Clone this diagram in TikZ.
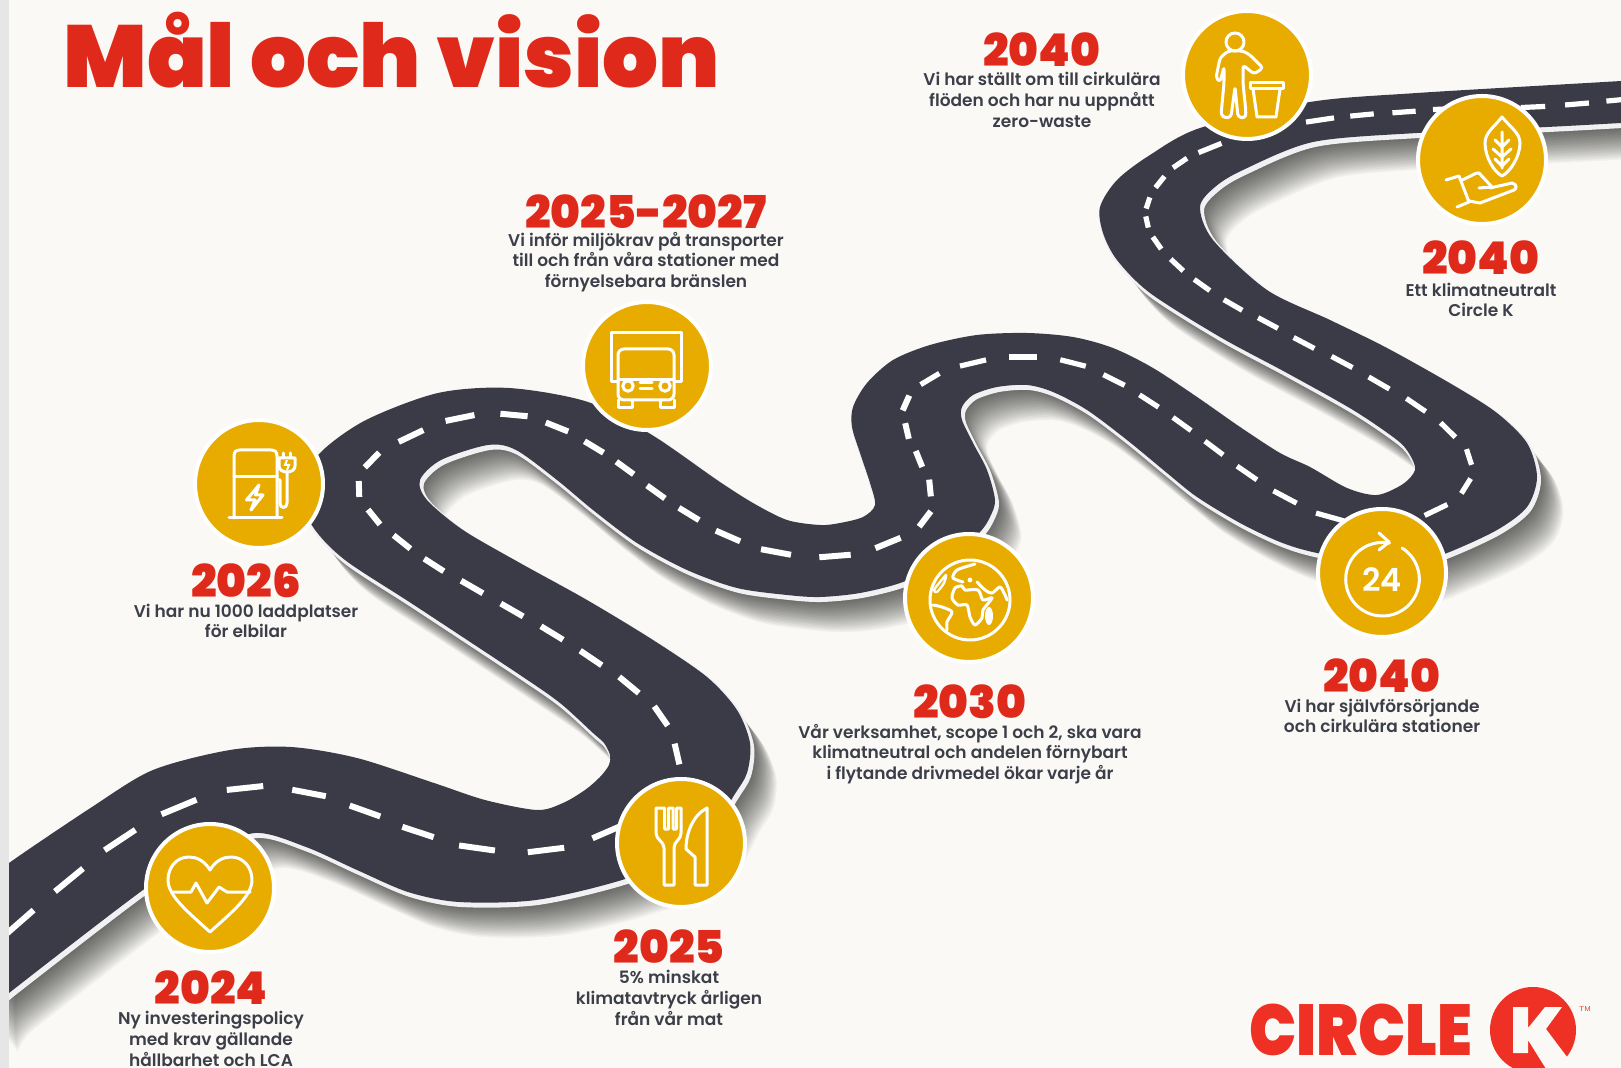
\documentclass[tikz,border=0pt]{standalone}
\usepackage{fontspec}
\usetikzlibrary{calc}
\setmainfont{Poppins}
\newfontfamily\heavy{Poppins Black}
\newfontfamily\med{Poppins SemiBold}
\definecolor{bgc}{HTML}{FAF9F5}
\definecolor{roadc}{HTML}{3B3B47}
\definecolor{yel}{HTML}{E8AC00}
\definecolor{redc}{HTML}{DF2A1B}
\definecolor{logoc}{HTML}{EE3124}
\definecolor{txt}{HTML}{3C3F49}
\definecolor{strip}{HTML}{E6E6E6}
\definecolor{curb}{HTML}{F1F1F3}
\tikzset{
 stop/.style={circle,fill=yel,draw=white,line width=2pt,minimum size=64pt,inner sep=0},
 ico/.style={draw=white,line width=1.5pt,line join=round,line cap=round},
 yearlab/.style={font=\heavy\fontsize{22.6}{23}\selectfont,text=redc,inner sep=0},
 desc/.style={font=\med\fontsize{8.5}{10.3}\selectfont,text=txt,align=center,inner sep=0},
 roadline/.style={draw=white,line cap=butt}
}
\def\roadpath{plot[smooth cycle,tension=.5] coordinates {
(-10,880)(9,863)(92,807)(153,770)(230,750)(291,747)(357,758)(434,783)(485,800)(537,810)(563,803)(585,790)(600,777)(609,765)(610,755)(604,743)(593,733)(560,703)(520,675)(414,605)(345,560)(313,527)(298,490)(320,453)(366,420)(438,393)(509,388)(588,402)(652,435)(717,480)(753,503)(787,520)(820,525)(840,523)(863,517)(875,505)(870,483)(860,453)(852,427)(853,407)(867,383)(893,360)(930,345)(977,335)(1027,333)(1073,337)(1113,348)(1153,368)(1197,397)(1240,427)(1280,453)(1310,467)(1347,488)(1377,495)(1403,484)(1415,470)(1410,455)(1397,440)(1353,410)(1287,373)(1220,337)(1150,293)(1117,260)(1103,233)(1100,207)(1117,180)(1150,155)(1200,128)(1310,102)(1417,93)(1621,81)(1640,79)
(1640,122)(1621,123)(1547,127)(1417,133)(1313,142)(1243,170)(1215,187)(1200,207)(1213,240)(1267,290)(1330,320)(1387,348)(1453,385)(1497,413)(1527,443)(1537,477)(1527,507)(1497,530)(1447,553)(1400,568)(1317,553)(1280,542)(1240,523)(1197,497)(1167,473)(1127,440)(1087,410)(1053,392)(1027,385)(997,387)(973,395)(962,407)(962,420)(973,443)(987,470)(995,500)(990,517)(980,532)(950,560)(903,582)(860,593)(820,597)(787,595)(737,588)(687,570)(637,543)(593,510)(557,480)(516,450)(488,445)(441,460)(420,480)(427,500)(463,530)(520,563)(587,600)(653,640)(707,677)(737,710)(750,743)(747,773)(733,797)(700,850)(622,880)(536,900)(459,902)(408,892)(357,870)(306,847)(255,833)(200,855)(143,890)(9,993)(-10,1010)
}}
\newcommand{\dashrun}[2]{%
 \foreach \x/\y [count=\i] in {#2}{%
  \ifnum\i>2
   \draw[roadline,line width=#1] ($(\bx,\by)+0.14*(\x,\y)-0.14*(\ax,\ay)$) -- ($(\bx,\by)-0.14*(\x,\y)+0.14*(\ax,\ay)$);
  \fi
  \ifnum\i>1 \global\let\ax\bx \global\let\ay\by \fi
  \global\let\bx\x \global\let\by\y
 }}
\begin{document}
\begin{tikzpicture}[x=0.5pt,y=-0.5pt]
\useasboundingbox (0,0) rectangle (1621,1068);
\clip (0,0) rectangle (1621,1068);
\fill[bgc] (0,0) rectangle (1621,1068);
% road shadow: stacked offset copies give a soft fall-off to the lower right
\foreach \k in {1,...,22}{
 \begin{scope}[shift={(\k*1.2,\k*1.6)}]
  \fill[black,opacity=.04] \roadpath;
 \end{scope}
}
% curb
\begin{scope}[shift={(2,3)}]
\filldraw[curb,draw=curb,line width=2pt,line join=round] \roadpath;
\end{scope}
\fill[roadc] \roadpath;
% centre dashes
\dashrun{3pt}{-28/965,20/922,69/880,120/840,179/807,245/788,309/793,365/811,418/832,477/848,546/850,607/832,650/805,678/790,677/754,661/716,629/685,591/658,552/633,512/610,472/587,434/565,402/542,374/517,359/489,372/460,411/436,460/418,514/415,557/427,594/447,625/468,656/492,689/514,728/536,776/552,835/556,888/543,925/519,930/488,919/459,907/431,906/403,930/379}
\dashrun{2.6pt}{907/431,906/403,930/379,973/363,1023/357,1073/363,1114/380,1149/401,1182/424,1214/448,1247/473,1285/497,1330/517,1385/525,1436/510,1466/486,1469/457,1448/430,1416/405,1379/383,1342/362,1304/343,1268/323,1233/305,1202/285,1177/265,1157/243,1147/222,1148/203,1160/182,1180/163,1210/148,1262/130,1320/120,1362/115,1404/112,1445/109,1490/108,1533/107,1577/104,1618/100,1660/96}
\fill[strip] (0,0) rectangle (9,1068);
% stops
\node[stop] (sheart) at (210,888) {};
\node[stop] (sfork) at (681,843) {};
\node[stop] (scharge) at (259,484) {};
\node[stop] (struck) at (647,366) {};
\node[stop] (sglobe) at (969,598) {};
\node[stop] (scycle) at (1382,573) {};
\node[stop] (sperson) at (1247,75) {};
\node[stop] (sleaf) at (1482,160) {};
% heart
\begin{scope}[shift={(sheart)}]
\draw[ico] (0,-18) .. controls (-6,-28) and (-14,-31) .. (-21,-31) .. controls (-34,-31) and (-42,-20) .. (-42,-8) .. controls (-42,8) and (-22,24) .. (0,44) .. controls (22,24) and (42,8) .. (42,-8) .. controls (42,-20) and (34,-31) .. (21,-31) .. controls (14,-31) and (6,-28) .. (0,-18) -- cycle;
\draw[ico] (-37,4) -- (-19,4) -- (-14,-5) -- (-3,15) -- (9,-1) -- (17,4) -- (40,4);
\end{scope}
% fork + knife
\begin{scope}[shift={(sfork)}]
\draw[ico] (-25,-35) -- (-25,-10) .. controls (-25,-3) and (-17,-2) .. (-17,5) -- (-17,42) -- (-7,42) -- (-7,5) .. controls (-7,-2) and (0,-3) .. (0,-10) -- (0,-35) -- (-4.5,-35) -- (-4.5,-14) -- (-8,-14) -- (-8,-35) -- (-12.5,-35) -- (-12.5,-14) -- (-16.5,-14) -- (-16.5,-35) -- (-21,-35) -- cycle;
\draw[ico] (26,-35) -- (26,42) -- (14,42) -- (14,14) -- (5,6) .. controls (5,-10) and (12,-28) .. (26,-35) -- cycle;
\end{scope}
% charger
\begin{scope}[shift={(scharge)}]
\draw[ico] (-25,34) -- (-25,-28) .. controls (-25,-32) and (-23,-34) .. (-19,-34) -- (12,-34) .. controls (16,-34) and (18,-32) .. (18,-28) -- (18,34);
\draw[ico] (-30,34) -- (23,34);
\draw[ico] (-25,-7) -- (18,-7);
\draw[ico] (0,1) -- (-12.5,16) -- (-4,16) -- (-8,26) -- (4,11) -- (-3.5,11) -- cycle;
\draw[ico] (24,-31) -- (24,-26) (31,-31) -- (31,-26);
\draw[ico] (20,-26) -- (36,-26) -- (36,-18) .. controls (36,-14) and (32,-12) .. (28,-12) .. controls (24,-12) and (20,-14) .. (20,-18) -- cycle;
\draw[ico] (28,-12) -- (28,19) .. controls (28,25) and (21,25) .. (21,19) -- (21,-4) -- (18,-4);
\draw[white,line width=1pt] (28,-24) -- (26,-19) -- (30,-19) -- (28,-14);
\end{scope}
% truck
\begin{scope}[shift={(struck)}]
\draw[ico] (-29,16) -- (-36,16) -- (-36,-33) -- (34,-33) -- (34,16) -- (27,16);
\draw[ico,rounded corners=3pt] (-29,34) -- (-29,-17) -- (27,-17) -- (27,34) -- cycle;
\draw[ico] (-29,14) -- (27,14);
\draw[ico] (-29,34) -- (-29,42) -- (-15,42) -- (-15,34);
\draw[ico] (13,34) -- (13,42) -- (27,42) -- (27,34);
\draw[ico] (-19,20) circle[radius=2.6pt];
\draw[ico] (18,20) circle[radius=2.6pt];
\draw[ico] (-7,17) -- (5,17) (-7,23) -- (5,23);
\end{scope}
% globe
\begin{scope}[shift={(sglobe)}]
\draw[ico] (1,2) circle[radius=20pt];
\draw[ico] plot[smooth cycle,tension=.45] coordinates {(-14,-10)(-17,0)(-11,7)(-2,7)(1,19)(6,27)(13,20)(14,12)(23,0)(14,2)(9,-8)(-4,-8)(-7,-12)};
\draw[ico] plot[smooth,tension=.45] coordinates {(6,-34)(-12,-28)(-16,-20)(-6,-16)};
\draw[ico] plot[smooth,tension=.45] coordinates {(8,-16)(16,-8)(23,-5)(31,-11)(36,-3)(38,2)};
\fill[white] (1,-18) circle[radius=1.2pt];
\draw[ico,line width=1.2pt] plot[smooth cycle,tension=.45] coordinates {(-29,-16)(-23,-23)(-25,-15)(-32,-6)(-35,-8)};
\draw[ico] plot[smooth,tension=.45] coordinates {(-36,7)(-27,9)(-17,14)(-22,24)(-22,32)};
\fill[white] (20,18) ellipse[x radius=2pt,y radius=4.5pt];
\end{scope}
% cycle 24
\begin{scope}[shift={(scycle)}]
\draw[ico] (20,-25) arc[start angle=58,end angle=-281,radius=18.4pt];
\draw[ico] (-3,-40) -- (7,-31) -- (-3,-23);
\node[font=\med\fontsize{16}{16}\selectfont,text=white,inner sep=0] (t24) at (0,7) {24};
\end{scope}
% person
\begin{scope}[shift={(sperson)}]
\draw[ico] (-12,-33) circle[radius=4.5pt];
\draw[ico,rounded corners=1.5pt] (-19,-24) -- (-27,-17) -- (-31,3) -- (-27,7) -- (-23,-8) -- (-23,8) -- (-26,40) -- (-22,43) -- (-16,42) -- (-12,12) -- (-9,42) -- (-2,43) -- (-1,38) -- (-4,8) -- (-4,-10) -- (7,-1) -- (16,-7) -- (3,-20) -- (-4,-24) -- cycle;
\draw[ico] (3,8) rectangle (36,14);
\draw[ico] (6,14) -- (10,42) -- (29,42) -- (33,14);
\end{scope}
% leaf hand
\begin{scope}[shift={(sleaf)}]
\draw[ico] (20,-43) .. controls (28,-33) and (38,-27) .. (38,-17) .. controls (38,-3) and (28,12) .. (20,16) .. controls (12,12) and (3,-3) .. (3,-17) .. controls (3,-27) and (12,-33) .. (20,-43) -- cycle;
\draw[ico] (20,-28) -- (20,8) (20,-13) -- (13,-20) (20,-13) -- (27,-20) (20,-3) -- (11,-11) (20,-3) -- (29,-11) (20,6) -- (13,-1) (20,6) -- (27,-1);
\draw[ico] (-36,20) -- (-23,16) -- (-13,42) -- (-25,47);
\draw[ico] (-20,20) .. controls (-10,16) and (-6,12) .. (-3,13) -- (10,27) -- (-3,28);
\draw[ico] (8,28) -- (30,23) .. controls (35,24) and (35,29) .. (32,30) -- (-2,43) -- (-13,41);
\end{scope}
% title
\node[anchor=base west,inner sep=0,text=redc,font=\heavy\fontsize{44}{44}\selectfont] (title) at (63,88) {Mål och vision};
% labels
\node[yearlab] (y2024) at (211,988) {2024};
\node[desc] (d2024) at (211,1039) {Ny investeringspolicy\\med krav gällande\\hållbarhet och LCA};
\node[yearlab] (y2025) at (669,947) {2025};
\node[desc] (d2025) at (669,998) {5\% minskat\\klimatavtryck årligen\\från vår mat};
\node[yearlab] (y2026) at (246,581) {2026};
\node[desc] (d2026) at (246,621) {Vi har nu 1000 laddplatser\\för elbilar};
\node[yearlab] (y2527) at (646,212) {2025-2027};
\node[desc] (d2527) at (646,262) {Vi inför miljökrav på transporter\\till och från våra stationer med\\förnyelsebara bränslen};
\node[yearlab] (y2030) at (970,702) {2030};
\node[desc] (d2030) at (970,754) {Vår verksamhet, scope 1 och 2, ska vara\\klimatneutral och andelen förnybart\\i flytande drivmedel ökar varje år};
\node[yearlab] (y2040a) at (1042,50) {2040};
\node[desc] (d2040a) at (1042,100) {Vi har ställt om till cirkulära\\flöden och har nu uppnått\\zero-waste};
\node[yearlab] (y2040b) at (1481,258) {2040};
\node[desc] (d2040b) at (1481,300) {Ett klimatneutralt\\Circle K};
\node[yearlab] (y2040c) at (1382,676) {2040};
\node[desc] (d2040c) at (1382,716) {Vi har självförsörjande\\och cirkulära stationer};
% logo
\node[anchor=base west,inner sep=0,text=logoc,font=\heavy\fontsize{36}{36}\selectfont] (logotext) at (1249,1055) {\scalebox{.87}[1]{CIRCLE}};
\node[circle,fill=logoc,minimum size=43pt,inner sep=0] (logodisc) at (1533,1030) {};
\fill[bgc] (1513,1007) -- (1528,1007) -- (1528,1028) -- (1545,1007) -- (1562,1007) -- (1546,1029) -- (1573,1065) -- (1553,1080) -- (1528,1040) -- (1528,1053) -- (1513,1053) -- cycle;
\node[text=logoc,font=\sffamily\fontsize{3.5}{4}\selectfont,inner sep=0] (tm) at (1585,1009) {TM};
\end{tikzpicture}
\end{document}
